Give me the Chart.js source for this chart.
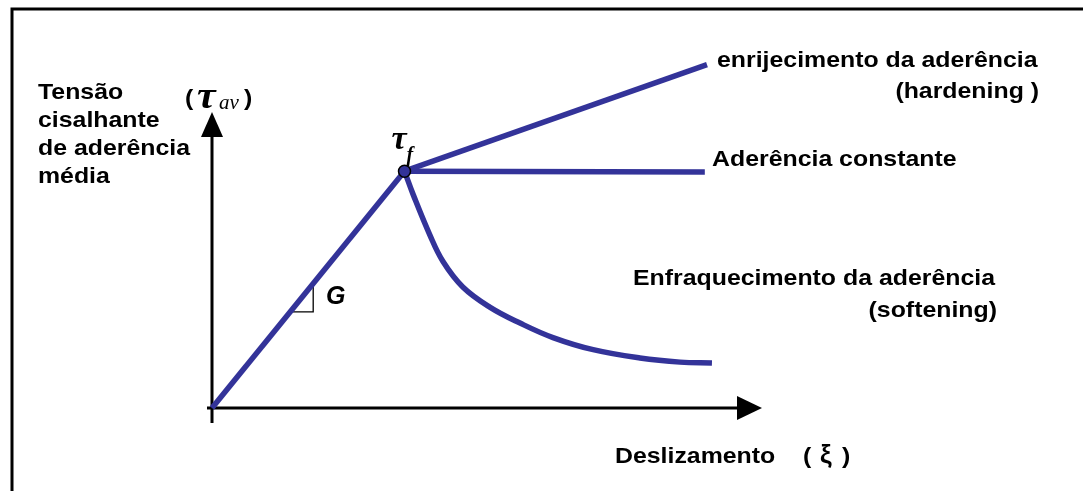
<!DOCTYPE html>
<html>
<head>
<meta charset="utf-8">
<script src="https://cdn.jsdelivr.net/npm/chart.js@4/dist/chart.umd.min.js"></script>
<style>
  html, body { margin: 0; padding: 0; background: #fff; }
  #wrap { width: 1083px; height: 491px; position: relative; }
</style>
</head>
<body>
<div id="wrap"><canvas id="chart"></canvas></div>
<script>
// bond stress vs slip (arbitrary units)
const peak = [3.5, 8.0];
const elasticX = [0, 3.5];
const elasticY = [0, 8.0];
const hardeningX = [3.5, 9.0];
const hardeningY = [8.0, 11.6];
const constantX = [3.5, 8.96];
const constantY = [8.0, 7.97];
const softeningX = [3.5, 3.66, 3.96, 4.2, 4.56, 5.05, 5.6, 6.2, 6.93, 7.78, 8.51, 9.09];
const softeningY = [8.0, 7.2, 5.85, 4.95, 4.09, 3.41, 2.87, 2.38, 1.97, 1.69, 1.55, 1.52];

const yLabelLines = ['Tensão', 'cisalhante', 'de aderência', 'média'];
const xLabel = 'Deslizamento';
const hardeningLabel = ['enrijecimento da aderência', '(hardening )'];
const constantLabel = 'Aderência constante';
const softeningLabel = ['Enfraquecimento da aderência', '(softening)'];

const BLUE = '#333399';
const FONT = 'bold 22px "Liberation Sans", Arial, sans-serif';
const SERIF = '"Liberation Serif", "Times New Roman", serif';
const STRETCH = 1.13; // the original text is a little wider than Arial

const pts = (xs, ys) => xs.map((x, i) => ({ x: x, y: ys[i] }));

const lineSet = (xs, ys, extra) => Object.assign({
    data: pts(xs, ys),
    showLine: true,
    borderColor: BLUE,
    borderWidth: 5.5,
    pointRadius: 0,
    fill: false,
    clip: false
}, extra || {});

function text(ctx, str, x, y, align, font, sx) {
    ctx.save();
    ctx.font = font || FONT;
    ctx.fillStyle = '#000';
    ctx.textBaseline = 'alphabetic';
    ctx.translate(x, y);
    ctx.scale(sx || STRETCH, 1);
    ctx.textAlign = align || 'left';
    ctx.fillText(str, 0, 0);
    ctx.restore();
}

const backdrop = {
    id: 'backdrop',
    beforeDatasetsDraw(chart) {
        const ctx = chart.ctx;
        const xs = chart.scales.x, ys = chart.scales.y;
        const ox = xs.getPixelForValue(0), oy = ys.getPixelForValue(0);
        const top = ys.getPixelForValue(10), right = xs.getPixelForValue(10);
        ctx.save();
        // frame (only top and left edges are inside the picture)
        ctx.strokeStyle = '#000';
        ctx.lineWidth = 3;
        ctx.strokeRect(12, 9, 2000, 2000);

        // axes
        ctx.beginPath();
        ctx.moveTo(ox, oy + 15);
        ctx.lineTo(ox, top + 24);
        ctx.moveTo(ox - 5, oy);
        ctx.lineTo(right - 24, oy);
        ctx.stroke();
        ctx.fillStyle = '#000';
        ctx.beginPath();
        ctx.moveTo(ox, top);
        ctx.lineTo(ox - 11, top + 25);
        ctx.lineTo(ox + 11, top + 25);
        ctx.closePath();
        ctx.fill();
        ctx.beginPath();
        ctx.moveTo(right, oy);
        ctx.lineTo(right - 25, oy - 12);
        ctx.lineTo(right - 25, oy + 12);
        ctx.closePath();
        ctx.fill();

        // slope triangle G on the elastic branch
        const slope = elasticY[1] / elasticX[1];
        const x0 = 1.42, x1 = 1.84;
        ctx.lineWidth = 1.3;
        ctx.beginPath();
        ctx.moveTo(xs.getPixelForValue(x0), ys.getPixelForValue(slope * x0));
        ctx.lineTo(xs.getPixelForValue(x1), ys.getPixelForValue(slope * x0));
        ctx.lineTo(xs.getPixelForValue(x1), ys.getPixelForValue(slope * x1));
        ctx.stroke();
        ctx.restore();
    },
    afterDatasetsDraw(chart) {
        const ctx = chart.ctx;
        // y axis title
        const yBase = [99, 127, 155, 183];
        yLabelLines.forEach((s, i) => text(ctx, s, 38, yBase[i]));
        text(ctx, '(', 185, 105);
        text(ctx, ')', 244, 105);
        text(ctx, 'τ', 197, 108, 'left', 'bold italic 38px ' + SERIF, 1.1);
        text(ctx, 'av', 219, 109, 'left', 'italic 21px ' + SERIF, 1);

        // x axis title
        text(ctx, xLabel, 615, 463);
        text(ctx, '(', 803, 463);
        text(ctx, 'ξ', 820, 463, 'left', 'bold 26px "Liberation Sans", Arial, sans-serif', 1);
        text(ctx, ')', 842, 463);

        // branch labels
        text(ctx, hardeningLabel[0], 717, 67);
        text(ctx, hardeningLabel[1], 1039, 98, 'right');
        text(ctx, constantLabel, 712, 166);
        text(ctx, softeningLabel[0], 633, 285);
        text(ctx, softeningLabel[1], 997, 317, 'right');

        // peak and slope marks
        const px = chart.scales.x.getPixelForValue(peak[0]);
        const py = chart.scales.y.getPixelForValue(peak[1]);
        text(ctx, 'τ', px - 13, py - 22, 'left', 'bold italic 34px ' + SERIF, 1);
        text(ctx, 'f', px + 2, py - 10, 'left', 'bold italic 20px ' + SERIF, 1);
        text(ctx, 'G', 326, 304, 'left', 'bold italic 25px "Liberation Sans", Arial, sans-serif', 1);
    }
};

new Chart(document.getElementById('chart'), {
    type: 'scatter',
    data: {
        datasets: [
            {
                data: [{ x: peak[0], y: peak[1] }],
                pointRadius: 6,
                pointBackgroundColor: BLUE,
                pointBorderColor: '#000',
                pointBorderWidth: 1.5,
                clip: false
            },
            lineSet(elasticX, elasticY),
            lineSet(hardeningX, hardeningY),
            lineSet(constantX, constantY),
            lineSet(softeningX, softeningY, { tension: 0.4 })
        ]
    },
    options: {
        responsive: true,
        maintainAspectRatio: false,
        animation: false,
        layout: { padding: { left: 212, right: 321, top: 112, bottom: 83 } },
        plugins: {
            legend: { display: false },
            tooltip: { enabled: false },
            title: { display: false }
        },
        scales: {
            x: { type: 'linear', min: 0, max: 10, display: false },
            y: { type: 'linear', min: 0, max: 10, display: false }
        }
    },
    plugins: [backdrop]
});
</script>
</body>
</html>
